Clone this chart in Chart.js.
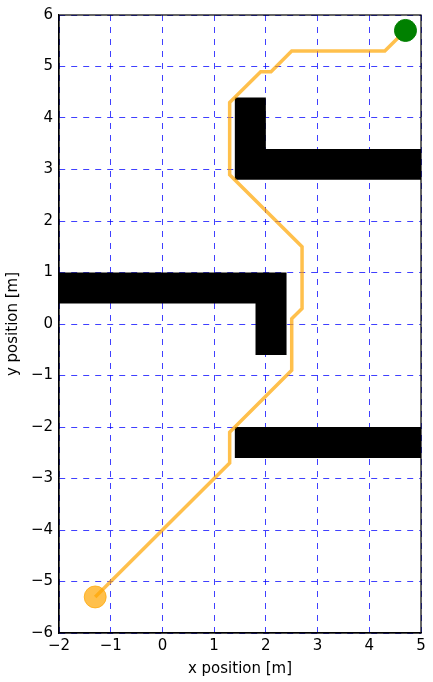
<!DOCTYPE html>
<html><head><meta charset="utf-8">
<script src="https://cdn.jsdelivr.net/npm/chart.js@4"></script>
<style>html,body{margin:0;padding:0;background:#fff}#w{width:433px;height:682px}</style>
</head><body><div id="w"><canvas id="c"></canvas></div>
<script>
const pathX = [-1.3, 1.3, 1.3, 2.5, 2.5, 2.7, 2.7, 1.3, 1.3, 1.9, 2.1, 2.5, 4.3, 4.7];
const pathY = [-5.3, -2.7, -2.1, -0.9, 0.1, 0.3, 1.5, 2.9, 4.3, 4.9, 4.9, 5.3, 5.3, 5.7];
const obstacle1X = [1.4, 2.0, 2.0, 5.0, 5.0, 1.4];
const obstacle1Y = [4.4, 4.4, 3.4, 3.4, 2.8, 2.8];
const obstacle2X = [-2.0, 2.4, 2.4, 1.8, 1.8, -2.0];
const obstacle2Y = [1.0, 1.0, -0.6, -0.6, 0.4, 0.4];
const obstacle3X = [1.4, 5.0, 5.0, 1.4];
const obstacle3Y = [-2.0, -2.0, -2.6, -2.6];
const startPt = [-1.3, -5.3];
const goalPt = [4.7, 5.7];
const xTicks = [-2, -1, 0, 1, 2, 3, 4, 5];
const yTicks = [-6, -5, -4, -3, -2, -1, 0, 1, 2, 3, 4, 5, 6];

const pts = (xs, ys) => xs.map((x, i) => ({x, y: ys[i]}));
const obst = (xs, ys) => ({data: pts(xs, ys), showLine: true, fill: 'shape', backgroundColor: '#000', borderColor: '#000', borderWidth: 0, pointRadius: 0, order: 3});
const font = {family: 'DejaVu Sans', size: 15};
const tickStr = v => v < 0 ? '\u2212' + Math.abs(v) : String(v);

new Chart(document.getElementById('c'), {
  type: 'scatter',
  data: {datasets: [
    obst(obstacle1X, obstacle1Y), obst(obstacle2X, obstacle2Y), obst(obstacle3X, obstacle3Y),
    {data: pts(pathX, pathY), showLine: true, borderColor: 'rgba(255,165,0,0.7)', borderWidth: 3.5, pointRadius: 0, fill: false, order: 2},
    {data: [{x: startPt[0], y: startPt[1]}], pointRadius: 11, backgroundColor: 'rgba(255,165,0,0.7)', borderColor: 'rgba(255,165,0,0.7)', order: 1},
    {data: [{x: goalPt[0], y: goalPt[1]}], pointRadius: 11, backgroundColor: 'green', borderColor: 'green', order: 1}
  ]},
  options: {
    responsive: true, maintainAspectRatio: false, animation: false,
    layout: {padding: {top: 13, right: 12, left: 0, bottom: 0}},
    plugins: {legend: {display: false}, tooltip: {enabled: false}},
    scales: {
      x: {type: 'linear', min: -2, max: 5,
        afterBuildTicks: s => { s.ticks = xTicks.map(v => ({value: v})); },
        afterFit: s => { s.height = 49; },
        ticks: {font, color: '#000', callback: tickStr, padding: 4, maxRotation: 0},
        grid: {color: 'rgba(0,0,255,0.75)', lineWidth: 1, tickColor: '#000', tickLength: 0, drawTicks: false},
        border: {display: true, color: '#000', width: 1.2, dash: [6, 6]},
        title: {display: true, text: 'x position [m]', font, color: '#000', padding: {top: 2}}
      },
      y: {type: 'linear', min: -6, max: 6,
        afterBuildTicks: s => { s.ticks = yTicks.map(v => ({value: v})); },
        afterFit: s => { s.width = 59; },
        ticks: {font, color: '#000', callback: tickStr, padding: 6},
        grid: {color: 'rgba(0,0,255,0.75)', lineWidth: 1, drawTicks: false},
        border: {display: true, color: '#000', width: 1.2, dash: [6, 6]},
        title: {display: true, text: 'y position [m]', font, color: '#000', padding: {bottom: 2}}
      }
    }
  },
  plugins: [{id: 'frame', afterDraw(c) {
    const a = c.chartArea, ctx = c.ctx;
    ctx.save(); ctx.strokeStyle = '#000'; ctx.lineWidth = 1.2; ctx.setLineDash([]);
    ctx.strokeRect(a.left, a.top, a.right - a.left, a.bottom - a.top);
    ctx.restore();
  }}]
});
</script></body></html>
